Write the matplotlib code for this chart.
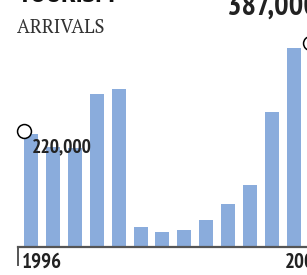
import matplotlib
matplotlib.use('Agg')
import matplotlib.pyplot as plt
from matplotlib.lines import Line2D

# tourist arrivals per year
years = [1996, 1997, 1998, 1999, 2000, 2001, 2002, 2003, 2004, 2005, 2006, 2007, 2008]
arrivals = [220000, 195000, 193000, 298000, 308000, 39000, 29000, 33000, 53000, 84000, 121000, 263000, 387000]

title = 'TOURISM'
subtitle = 'ARRIVALS'

narrow = ['PT Sans Narrow', 'Roboto Condensed', 'DejaVu Sans']
serif = ['PT Serif', 'Liberation Serif', 'DejaVu Serif']
bar_color = '#8aacdc'

fig = plt.figure(figsize = (3.07, 2.75), dpi = 100)
ax = fig.add_axes([0, 28 / 275, 1, 247 / 275])

x = list(range(len(years)))
ax.bar(x, arrivals, width = 0.64, color = bar_color, zorder = 1)
ax.set_xlim(-1.42, 12.6)
ax.set_ylim(0, 481000)
ax.axis('off')

# baseline and the small tick at the left
ax.plot([-0.59, 12.6], [0, 0], color = '#555555', lw = 1.6, zorder = 3, clip_on = False)
fig.add_artist(Line2D([18 / 307, 18 / 307], [10 / 275, 28 / 275], color = '#555555', lw = 1.4))

# open circles at the first and last value
first, last = 0, len(years) - 1
ax.plot([first - 0.32], [arrivals[first] + 5000], 'o', ms = 10, mfc = 'white', mec = 'black', mew = 1.1, clip_on = False, zorder = 4)
ax.plot([last + 0.74], [arrivals[last] + 11000], 'o', ms = 10, mfc = 'white', mec = 'black', mew = 1.1, clip_on = False, zorder = 4)

ax.text(first + 0.05, arrivals[first] - 35000, '{:,}'.format(arrivals[first]), family = narrow,
        fontweight = 'bold', fontsize = 14, color = '#222222', va = 'baseline', zorder = 5)
ax.text(8.95, 452000, '{:,}'.format(arrivals[last]), family = narrow,
        fontweight = 'bold', fontsize = 22, color = '#222222', va = 'baseline', clip_on = False)

# year labels under the axis
for i in [first, last]:
  ax.text(i - 0.41, -12000, str(years[i]), family = narrow, fontweight = 'bold', fontsize = 15,
          color = '#222222', va = 'top', clip_on = False)

fig.text(18 / 307, 1 - 2 / 275, title, family = narrow, fontweight = 'bold', fontsize = 21,
         color = '#111111', va = 'baseline')
fig.text(17 / 307, 1 - 33 / 275, subtitle, family = serif, fontsize = 13.5,
         color = '#333333', va = 'baseline')

fig.savefig('out.png', dpi = 100)
plt.close()
